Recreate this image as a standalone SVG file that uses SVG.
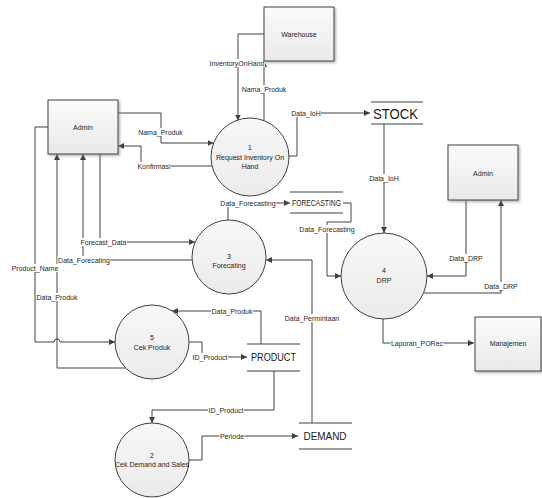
<svg xmlns="http://www.w3.org/2000/svg" width="542" height="498" viewBox="0 0 542 498">
  <defs>
    <linearGradient id="boxFill" x1="0" y1="0" x2="0" y2="1">
      <stop offset="0" stop-color="#fbfbfb"/>
      <stop offset="1" stop-color="#e9e9e9"/>
    </linearGradient>
    <linearGradient id="procFill" x1="0" y1="0" x2="0" y2="1">
      <stop offset="0" stop-color="#f7f7f7"/>
      <stop offset="1" stop-color="#ebebeb"/>
    </linearGradient>
    <filter id="shadow" x="-10%" y="-10%" width="130%" height="130%">
      <feDropShadow dx="1.5" dy="1.5" stdDeviation="0.8" flood-color="#808080" flood-opacity="0.6"/>
    </filter>
    <marker id="arrow" viewBox="0 0 6 6" refX="6" refY="3" markerWidth="6" markerHeight="6" markerUnits="userSpaceOnUse" orient="auto">
      <path d="M0,0 L6,3 L0,6 z" fill="#404040"/>
    </marker>
  </defs>
  <style>
    .entity rect { fill: url(#boxFill); stroke: #404040; stroke-width: 1; filter: url(#shadow); }
    .process circle { fill: url(#procFill); stroke: #404040; stroke-width: 1; }
    .store line { stroke: #404040; stroke-width: 1.2; }
    .txt { font-family: "Liberation Sans", Arial, sans-serif; font-size: 7px; fill: #262626; text-anchor: middle; }
    .big { font-family: "Liberation Sans", Arial, sans-serif; fill: #1a1a1a; text-anchor: middle; }
    #connectors path { fill: none; stroke: #404040; stroke-width: 1; }
    #connectors path.flow { marker-end: url(#arrow); }
    #connectors rect.bg { fill: #ffffff; }
    .lbl { font-family: "Liberation Sans", Arial, sans-serif; font-size: 7px; fill: #262626; text-anchor: middle; }
  </style>
  <rect width="542" height="498" fill="#ffffff"/>

  <!-- flows between entities, processes and stores -->
  <g id="connectors">
    <path class="flow" d="M118,113 H161 V143 H213.5"/>
    <path class="flow" d="M212,166 H141 V146 H118"/>
    <path class="flow" d="M264,34 H238 V120.5"/>
    <path class="flow" d="M264,120.5 V61"/>
    <path class="flow" d="M289,156 H297 V113 H370"/>
    <path class="flow" d="M384,124 V233"/>
    <path class="flow" d="M228,220 V203 H290"/>
    <path class="flow" d="M343,203 H351 V222 H327 V276 H341"/>
    <path class="flow" d="M100,154 V242 H195"/>
    <path class="flow" d="M192,260 H83 V154"/>
    <path class="flow" d="M48,127 H35 V342 H54 A3,3 0 0 1 60,342 H115"/>
    <path class="flow" d="M125.7,368 H57 V154"/>
    <path class="flow" d="M189,342 H202 V357 H247"/>
    <path class="flow" d="M261,344 V311 H172"/>
    <path class="flow" d="M274,371 V410 H152 V423"/>
    <path class="flow" d="M189,460 H202 V436 H298"/>
    <path class="flow" d="M312,423 V260 H266"/>
    <path class="flow" d="M466,200 V276 H427"/>
    <path class="flow" d="M423.5,293 H501 V200"/>
    <path class="flow" d="M383,319 V343 H474"/>

    <!-- label backgrounds -->
    <rect class="bg" x="137.5" y="128" width="46" height="8"/>
    <rect class="bg" x="137" y="162" width="34" height="8"/>
    <rect class="bg" x="209" y="59" width="56" height="8"/>
    <rect class="bg" x="241" y="85" width="46" height="8"/>
    <rect class="bg" x="291" y="109" width="30" height="8"/>
    <rect class="bg" x="369" y="174" width="30" height="8"/>
    <rect class="bg" x="220" y="199" width="56" height="8"/>
    <rect class="bg" x="299" y="225" width="56" height="8"/>
    <rect class="bg" x="80" y="238" width="47" height="8"/>
    <rect class="bg" x="57.5" y="256" width="53" height="8"/>
    <rect class="bg" x="11" y="264" width="48" height="8"/>
    <rect class="bg" x="36" y="293" width="42" height="8"/>
    <rect class="bg" x="211" y="307" width="42" height="8"/>
    <rect class="bg" x="192" y="353" width="36" height="8"/>
    <rect class="bg" x="208" y="406" width="36" height="8"/>
    <rect class="bg" x="219.5" y="432" width="25" height="8"/>
    <rect class="bg" x="284.5" y="314" width="55" height="8"/>
    <rect class="bg" x="449" y="254" width="34" height="8"/>
    <rect class="bg" x="484" y="282" width="34" height="8"/>
    <rect class="bg" x="390.5" y="339" width="53" height="8"/>

    <text class="lbl" x="160.5" y="134.5">Nama_Produk</text>
    <text class="lbl" x="154" y="168.5">Konfirmasi</text>
    <text class="lbl" x="237" y="65.5">InventoryOnHand</text>
    <text class="lbl" x="264" y="91.5">Nama_Produk</text>
    <text class="lbl" x="306" y="115.5">Data_IoH</text>
    <text class="lbl" x="384" y="180.5">Data_IoH</text>
    <text class="lbl" x="248" y="205.5">Data_Forecasting</text>
    <text class="lbl" x="327" y="231.5">Data_Forecasting</text>
    <text class="lbl" x="103.5" y="244.5">Forecast_Data</text>
    <text class="lbl" x="84" y="262.5">Data_Forecating</text>
    <text class="lbl" x="35" y="270.5">Product_Name</text>
    <text class="lbl" x="57" y="299.5">Data_Produk</text>
    <text class="lbl" x="232" y="313.5">Data_Produk</text>
    <text class="lbl" x="210" y="359.5">ID_Product</text>
    <text class="lbl" x="226" y="412.5">ID_Product</text>
    <text class="lbl" x="232" y="438.5">Periode</text>
    <text class="lbl" x="312" y="320.5">Data_Permintaan</text>
    <text class="lbl" x="466" y="260.5">Data_DRP</text>
    <text class="lbl" x="501" y="288.5">Data_DRP</text>
    <text class="lbl" x="417" y="345.5">Laporan_PORec</text>
  </g>

  <!-- external entities -->
  <g id="admin" class="entity">
    <rect x="48" y="100" width="70" height="54"/>
    <text class="txt" x="83" y="130">Admin</text>
  </g>
  <g id="warehouse" class="entity">
    <rect x="264" y="7" width="70" height="54"/>
    <text class="txt" x="299" y="36.5">Warehouse</text>
  </g>
  <g id="admin-2" class="entity">
    <rect x="448" y="145" width="70" height="55"/>
    <text class="txt" x="483" y="175.5">Admin</text>
  </g>
  <g id="manajemen" class="entity">
    <rect x="475" y="317" width="66" height="54"/>
    <text class="txt" x="508" y="345.5">Manajemen</text>
  </g>

  <!-- processes -->
  <g id="p1" class="process">
    <circle cx="250" cy="157" r="39"/>
    <text class="txt" x="250" y="150">1</text>
    <text class="txt" x="250" y="159.5">Request Inventory On</text>
    <text class="txt" x="250" y="168.5">Hand</text>
  </g>
  <g id="p3" class="process">
    <circle cx="229" cy="257" r="37"/>
    <text class="txt" x="229" y="258.5">3</text>
    <text class="txt" x="229" y="267.5">Forecating</text>
  </g>
  <g id="p5" class="process">
    <circle cx="152" cy="342" r="37"/>
    <text class="txt" x="152" y="340">5</text>
    <text class="txt" x="152" y="350">Cek Produk</text>
  </g>
  <g id="p2" class="process">
    <circle cx="152" cy="460" r="37"/>
    <text class="txt" x="152" y="457.5">2</text>
    <text class="txt" x="152" y="467">Cek Demand and Sales</text>
  </g>
  <g id="p4" class="process">
    <circle cx="384" cy="276" r="43"/>
    <text class="txt" x="384" y="272.5">4</text>
    <text class="txt" x="384" y="282.5">DRP</text>
  </g>

  <!-- data stores -->
  <g id="stock" class="store">
    <line x1="371" y1="102" x2="423" y2="102"/>
    <line x1="371" y1="124" x2="423" y2="124"/>
    <text class="big" x="395.5" y="119" font-size="15" textLength="45" lengthAdjust="spacingAndGlyphs">STOCK</text>
  </g>
  <g id="forecasting" class="store">
    <line x1="290" y1="192" x2="343" y2="192"/>
    <line x1="290" y1="213" x2="343" y2="213"/>
    <text class="big" x="316.5" y="206" font-size="8.5" textLength="49" lengthAdjust="spacingAndGlyphs">FORECASTING</text>
  </g>
  <g id="product" class="store">
    <line x1="247" y1="344" x2="300" y2="344"/>
    <line x1="247" y1="371" x2="300" y2="371"/>
    <text class="big" x="273.5" y="361" font-size="11.5" textLength="45" lengthAdjust="spacingAndGlyphs">PRODUCT</text>
  </g>
  <g id="demand" class="store">
    <line x1="299" y1="423" x2="352" y2="423"/>
    <line x1="299" y1="449" x2="352" y2="449"/>
    <text class="big" x="325" y="440" font-size="11" textLength="43" lengthAdjust="spacingAndGlyphs">DEMAND</text>
  </g>
</svg>
